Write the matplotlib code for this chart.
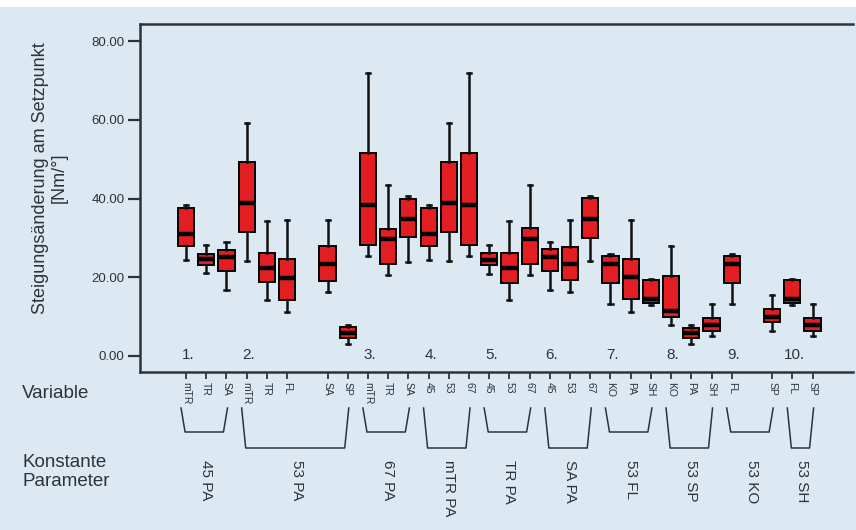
import matplotlib
matplotlib.use("Agg")
import matplotlib.pyplot as plt
import matplotlib.transforms as mtransforms
from matplotlib.patches import Rectangle

plt.rcParams['font.family'] = ['Liberation Sans', 'DejaVu Sans']

# variables per group (None = empty slot)
group_vars = [
    ['mTR', 'TR', 'SA'],
    ['mTR', 'TR', 'FL', None, 'SA', 'SP'],
    ['mTR', 'TR', 'SA'],
    ['45', '53', '67'],
    ['45', '53', '67'],
    ['45', '53', '67'],
    ['KO', 'PA', 'SH'],
    ['KO', 'PA', 'SH'],
    ['FL', None, 'SP'],
    ['FL', 'SP'],
]
group_nums = ['1.', '2.', '3.', '4.', '5.', '6.', '7.', '8.', '9.', '10.']
group_params = ['45 PA', '53 PA', '67 PA', 'mTR PA', 'TR PA', 'SA PA',
                '53 FL', '53 SP', '53 KO', '53 SH']

# box statistics, one entry per box (left to right)
whishi = [38.4, 28.3, 28.9, 59.3, 34.2, 34.6, 34.6, 8.0, 71.9, 43.4, 40.7, 38.3, 59.3, 71.9, 28.2,
          34.3, 43.4, 29.0, 34.6, 40.7, 25.8, 34.6, 19.6, 27.9, 8.0, 13.1, 25.8, 15.5, 19.6, 13.1]
q3 = [37.7, 26.0, 27.0, 49.4, 26.2, 24.6, 27.9, 7.3, 51.7, 32.3, 40.0, 37.5, 49.3, 51.7, 26.1,
      26.1, 32.4, 27.1, 27.8, 40.1, 25.4, 24.6, 19.3, 20.4, 7.2, 9.7, 25.4, 11.9, 19.3, 9.7]
med = [31.0, 24.6, 25.2, 38.8, 22.4, 19.7, 23.4, 5.8, 38.4, 29.6, 34.8, 31.0, 38.8, 38.4, 24.4,
       22.4, 29.6, 25.2, 23.3, 34.8, 23.4, 20.0, 14.4, 11.5, 5.8, 7.9, 23.4, 10.0, 14.4, 7.9]
q1 = [27.9, 23.1, 21.6, 31.6, 18.7, 14.2, 19.1, 4.5, 28.2, 23.4, 30.2, 27.9, 31.6, 28.2, 23.1,
      18.5, 23.3, 21.6, 19.3, 30.1, 18.5, 14.4, 13.4, 9.8, 4.5, 6.4, 18.5, 8.7, 13.4, 6.4]
whislo = [24.4, 21.0, 16.8, 24.1, 14.2, 11.1, 16.3, 3.0, 25.4, 20.6, 24.0, 24.4, 24.1, 25.4, 20.8,
          14.2, 20.6, 16.8, 16.3, 24.1, 13.2, 11.1, 13.0, 8.0, 3.0, 5.1, 13.2, 6.4, 13.0, 5.1]

yticks = [0, 20, 40, 60, 80]

bg = '#dce9f2'
dark = '#2e3338'
red = '#e21e22'

# slot positions from the group layout
positions, labels, group_slots = [], [], []
slot = 0
for vars_ in group_vars:
    slots = []
    for v in vars_:
        if v is not None:
            positions.append(slot)
            labels.append(v)
            slots.append(slot)
        slot += 1
    group_slots.append(slots)

stats = []
for i in range(len(positions)):
    stats.append(dict(whislo=whislo[i], q1=q1[i], med=med[i], q3=q3[i], whishi=whishi[i], fliers=[]))

fig = plt.figure(figsize=(8.56, 5.30), dpi=100, facecolor=bg)
fig.patches.append(Rectangle((0, 1 - 7 / 530), 1, 7 / 530, transform=fig.transFigure,
                             facecolor='white', edgecolor='none'))
ax = fig.add_axes([140 / 856, 1 - 372 / 530, 713 / 856, 348 / 530])
ax.set_facecolor(bg)

ax.bxp(stats, positions=positions, widths=0.8, capwidths=0.2, patch_artist=True,
       showfliers=False,
       boxprops=dict(facecolor=red, edgecolor='black', linewidth=1.4),
       medianprops=dict(color='black', linewidth=3.2, solid_capstyle='butt'),
       whiskerprops=dict(color='#111111', linewidth=1.8),
       capprops=dict(color='#111111', linewidth=1.8))

ax.set_xlim(-2.28, 33.0)
ax.set_ylim(-4.07, 84.36)

for s in ['left', 'top', 'bottom']:
    ax.spines[s].set_color(dark)
    ax.spines[s].set_linewidth(1.8)
ax.spines['right'].set_visible(False)

ax.set_yticks(yticks)
ax.set_yticklabels(['%.2f' % t for t in yticks], fontsize=9.5, color=dark)
ax.tick_params(axis='y', direction='out', length=9, width=1.6, color=dark, pad=2)

ax.set_xticks(positions)
ax.set_xticklabels(labels, rotation=270, fontsize=7.5, color=dark)
ax.tick_params(axis='x', direction='out', length=5, width=1.3, color=dark, pad=2)

# group numbers and brackets with constant parameter labels
trans = mtransforms.blended_transform_factory(ax.transData, ax.transAxes)
y_top = (372 - 408) / 348
y_shallow = (372 - 432) / 348
y_deep = (372 - 448) / 348
y_text = (372 - 460) / 348
for i, slots in enumerate(group_slots):
    first, last = slots[0], slots[-1]
    ax.text(first + 0.1, 0.05, group_nums[i], transform=trans, ha='center', va='center',
            fontsize=11, color=dark)
    yb = y_shallow if i % 2 == 0 else y_deep
    ax.plot([first - 0.25, first - 0.05, last - 0.15, last + 0.05], [y_top, yb, yb, y_top],
            transform=trans, clip_on=False, color=dark, linewidth=1.1)
    ax.text((first + last) / 2, y_text, group_params[i], transform=trans, rotation=270,
            ha='center', va='top', fontsize=11, color=dark)

fig.text(50 / 856, 1 - 178 / 530, 'Steigungsänderung am Setzpunkt\n[Nm/°]', rotation=90,
         ha='center', va='center', multialignment='center', fontsize=13, color=dark,
         linespacing=1.1)
fig.text(22 / 856, 1 - 393 / 530, 'Variable', ha='left', va='center', fontsize=13.5, color=dark)
fig.text(22 / 856, 1 - 472 / 530, 'Konstante\nParameter', ha='left', va='center', fontsize=13.5,
         color=dark, linespacing=1.15)

fig.savefig('out.png', dpi=100, facecolor=bg)
